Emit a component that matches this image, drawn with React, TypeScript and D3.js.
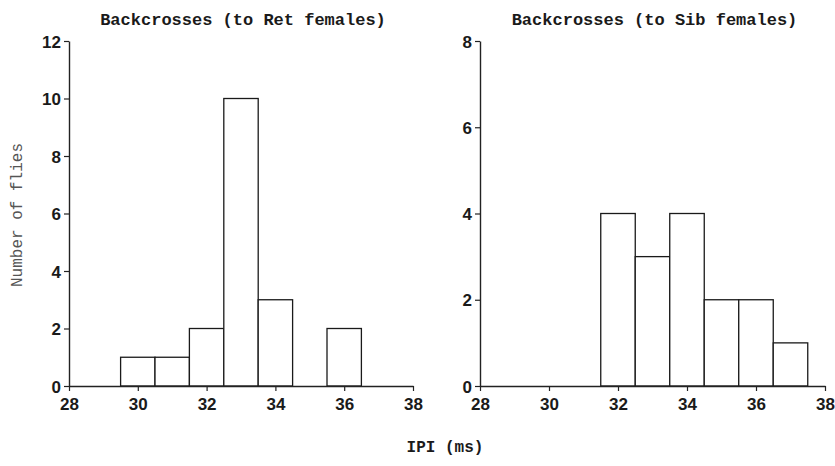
import React from 'react'
import { useRef, useEffect } from "react";
import * as d3 from 'd3';

// bins are 1 ms wide, centred on the integer value
const retCenters = [30, 31, 32, 33, 34, 36];
const retCounts = [1, 1, 2, 10, 3, 2];
const sibCenters = [32, 33, 34, 35, 36, 37];
const sibCounts = [4, 3, 4, 2, 2, 1];

const xTicks = [28, 30, 32, 34, 36, 38];
const retYTicks = [0, 2, 4, 6, 8, 10, 12];
const sibYTicks = [0, 2, 4, 6, 8];

const titles = ["Backcrosses (to Ret females)", "Backcrosses (to Sib females)"];

export default function App() {
  const svgRef = useRef(null);

  useEffect(() => {
    const w = 835;
    const h = 466;
    const svg = d3.select(svgRef.current);
    svg.selectAll('*').remove();
    svg.attr('width', w).attr('height', h);

    const panels = [
      { left: 69, right: 413, centers: retCenters, counts: retCounts, yTicks: retYTicks, yMax: 12, title: titles[0] },
      { left: 480, right: 825, centers: sibCenters, counts: sibCounts, yTicks: sibYTicks, yMax: 8, title: titles[1] }
    ];

    const top = 41;
    const bottom = 386;

    panels.forEach(p => {
      const x = d3.scaleLinear().domain([28, 38]).range([p.left, p.right]);
      const y = d3.scaleLinear().domain([0, p.yMax]).range([bottom, top]);
      const g = svg.append('g');

      // bars
      g.selectAll('rect')
        .data(p.centers)
        .enter()
        .append('rect')
        .attr('x', d => x(d - 0.5))
        .attr('y', (d, i) => y(p.counts[i]))
        .attr('width', d => x(d + 0.5) - x(d - 0.5))
        .attr('height', (d, i) => y(0) - y(p.counts[i]))
        .style('fill', 'white')
        .style('stroke', '#1a1a1a')
        .style('stroke-width', 1.3);

      // x axis
      const xAxis = d3.axisBottom(x).tickValues(xTicks).tickSize(5).tickSizeOuter(0).tickFormat(d3.format('d'));
      const xg = g.append('g').attr('transform', `translate(0, ${bottom})`).call(xAxis);
      // y axis
      const yAxis = d3.axisLeft(y).tickValues(p.yTicks).tickSize(5).tickSizeOuter(0).tickFormat(d3.format('d'));
      const yg = g.append('g').attr('transform', `translate(${p.left}, 0)`).call(yAxis);

      [xg, yg].forEach(a => {
        a.select('.domain').style('stroke', '#222').style('stroke-width', 1.4);
        a.selectAll('.tick line').style('stroke', '#222').style('stroke-width', 1.2);
        a.selectAll('.tick text')
          .style('font-family', '"Liberation Sans", Arial, sans-serif')
          .style('font-weight', 'bold')
          .style('font-size', '17px')
          .style('fill', '#1a1a1a');
      });
      xg.selectAll('.tick text').attr('dy', '0.95em');
      yg.selectAll('.tick text').attr('x', -8).attr('dy', '0.36em');

      g.append('text')
        .attr('x', (p.left + p.right) / 2 + 2)
        .attr('y', 25)
        .attr('text-anchor', 'middle')
        .style('font-family', '"Liberation Mono", "Courier New", monospace')
        .style('font-weight', 'bold')
        .style('font-size', '17px')
        .style('fill', '#1a1a1a')
        .text(p.title);
    });

    // shared labels
    svg.append('text')
      .attr('x', 445)
      .attr('y', 452)
      .attr('text-anchor', 'middle')
      .style('font-family', '"Liberation Mono", "Courier New", monospace')
      .style('font-weight', 'bold')
      .style('font-size', '16px')
      .style('fill', '#1a1a1a')
      .text('IPI (ms)');

    svg.append('text')
      .attr('transform', 'translate(22, 215) rotate(-90)')
      .attr('text-anchor', 'middle')
      .style('font-family', '"Liberation Mono", "Courier New", monospace')
      .style('font-size', '16px')
      .style('fill', '#555')
      .text('Number of flies');
  }, []);

  return (
    <div style={{ position: 'absolute', left: 0, top: 0, width: 835, height: 466, overflow: 'hidden' }}>
      <svg ref={svgRef} style={{ display: 'block' }}></svg>
    </div>
  );
}
